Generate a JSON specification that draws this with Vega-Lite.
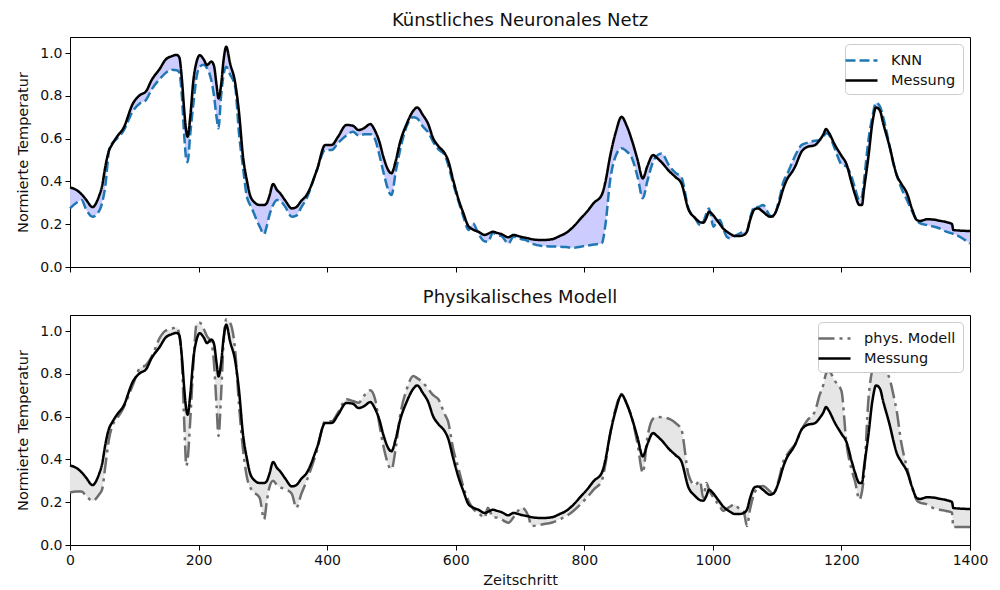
{
  "$schema": "https://vega.github.io/schema/vega-lite/v6.json",
  "padding": {"left": 15, "top": 11, "right": 5, "bottom": 5},
  "spacing": 13,
  "config": {
    "font": "DejaVu Sans",
    "view": {"stroke": "#000000", "strokeWidth": 1},
    "axis": {"grid": false, "domainColor": "#000000", "tickColor": "#000000", "labelColor": "#111111", "titleColor": "#111111", "labelFontSize": 14, "titleFontSize": 14.5, "titleFontWeight": "normal", "tickSize": 5, "labelPadding": 3},
    "title": {"fontSize": 18, "fontWeight": "normal", "color": "#111111", "offset": 7},
    "legend": {"orient": "top-right", "offset": 7, "fillColor": "#ffffff", "strokeColor": "#cccccc", "cornerRadius": 4, "padding": 7, "labelFontSize": 14.5, "labelColor": "#111111", "symbolType": "M-2,0H2", "symbolSize": 256, "symbolStrokeWidth": 2.5, "labelOffset": 20, "rowPadding": 4}
  },
  "data": {"values": [
    {"t":0,"Messung":0.372,"KNN":0.274,"phys":0.245},
    {"t":10,"Messung":0.36,"KNN":0.30,"phys":0.25},
    {"t":18,"Messung":0.34,"KNN":0.313,"phys":0.25},
    {"t":25,"Messung":0.315,"KNN":0.27,"phys":0.23},
    {"t":35,"Messung":0.28,"KNN":0.235,"phys":0.206},
    {"t":45,"Messung":0.33,"KNN":0.26,"phys":0.235},
    {"t":50,"Messung":0.38,"KNN":0.30,"phys":0.26},
    {"t":55,"Messung":0.47,"KNN":0.38,"phys":0.37},
    {"t":61,"Messung":0.547,"KNN":0.55,"phys":0.50},
    {"t":65,"Messung":0.57,"KNN":0.575,"phys":0.55},
    {"t":73,"Messung":0.609,"KNN":0.60,"phys":0.59},
    {"t":83,"Messung":0.648,"KNN":0.635,"phys":0.64},
    {"t":98,"Messung":0.765,"KNN":0.73,"phys":0.75},
    {"t":109,"Messung":0.804,"KNN":0.765,"phys":0.828},
    {"t":118,"Messung":0.82,"KNN":0.78,"phys":0.84},
    {"t":127,"Messung":0.874,"KNN":0.83,"phys":0.88},
    {"t":140,"Messung":0.928,"KNN":0.88,"phys":0.97},
    {"t":148,"Messung":0.967,"KNN":0.905,"phys":1.0},
    {"t":158,"Messung":0.985,"KNN":0.922,"phys":1.01},
    {"t":166,"Messung":0.991,"KNN":0.92,"phys":1.018},
    {"t":170,"Messung":0.98,"KNN":0.91,"phys":0.98},
    {"t":174,"Messung":0.88,"KNN":0.80,"phys":0.86},
    {"t":178,"Messung":0.72,"KNN":0.60,"phys":0.55},
    {"t":181,"Messung":0.63,"KNN":0.50,"phys":0.37},
    {"t":183,"Messung":0.609,"KNN":0.49,"phys":0.40},
    {"t":187,"Messung":0.70,"KNN":0.62,"phys":0.58},
    {"t":192,"Messung":0.874,"KNN":0.765,"phys":0.85},
    {"t":197,"Messung":0.96,"KNN":0.89,"phys":1.035},
    {"t":202,"Messung":0.99,"KNN":0.936,"phys":1.039},
    {"t":208,"Messung":0.97,"KNN":0.945,"phys":1.01},
    {"t":213,"Messung":0.944,"KNN":0.93,"phys":0.977},
    {"t":220,"Messung":0.96,"KNN":0.87,"phys":0.945},
    {"t":224,"Messung":0.94,"KNN":0.80,"phys":0.85},
    {"t":228,"Messung":0.85,"KNN":0.70,"phys":0.65},
    {"t":231,"Messung":0.788,"KNN":0.648,"phys":0.51},
    {"t":235,"Messung":0.85,"KNN":0.80,"phys":0.70},
    {"t":239,"Messung":0.97,"KNN":0.90,"phys":0.95},
    {"t":243,"Messung":1.03,"KNN":0.936,"phys":1.055},
    {"t":249,"Messung":0.952,"KNN":0.90,"phys":1.039},
    {"t":257,"Messung":0.86,"KNN":0.84,"phys":0.907},
    {"t":263,"Messung":0.72,"KNN":0.62,"phys":0.65},
    {"t":269,"Messung":0.52,"KNN":0.47,"phys":0.45},
    {"t":275,"Messung":0.407,"KNN":0.33,"phys":0.32},
    {"t":282,"Messung":0.321,"KNN":0.28,"phys":0.26},
    {"t":295,"Messung":0.29,"KNN":0.19,"phys":0.221},
    {"t":302,"Messung":0.29,"KNN":0.154,"phys":0.12},
    {"t":306,"Messung":0.298,"KNN":0.19,"phys":0.20},
    {"t":310,"Messung":0.33,"KNN":0.24,"phys":0.268},
    {"t":316,"Messung":0.388,"KNN":0.29,"phys":0.30},
    {"t":322,"Messung":0.36,"KNN":0.313,"phys":0.28},
    {"t":327,"Messung":0.344,"KNN":0.31,"phys":0.27},
    {"t":335,"Messung":0.31,"KNN":0.28,"phys":0.26},
    {"t":345,"Messung":0.274,"KNN":0.235,"phys":0.24},
    {"t":352,"Messung":0.28,"KNN":0.24,"phys":0.174},
    {"t":360,"Messung":0.31,"KNN":0.28,"phys":0.24},
    {"t":368,"Messung":0.336,"KNN":0.32,"phys":0.299},
    {"t":384,"Messung":0.453,"KNN":0.453,"phys":0.44},
    {"t":397,"Messung":0.57,"KNN":0.547,"phys":0.578},
    {"t":407,"Messung":0.57,"KNN":0.547,"phys":0.578},
    {"t":417,"Messung":0.609,"KNN":0.58,"phys":0.62},
    {"t":430,"Messung":0.664,"KNN":0.615,"phys":0.681},
    {"t":440,"Messung":0.66,"KNN":0.632,"phys":0.673},
    {"t":449,"Messung":0.64,"KNN":0.615,"phys":0.665},
    {"t":458,"Messung":0.65,"KNN":0.62,"phys":0.70},
    {"t":467,"Messung":0.668,"KNN":0.621,"phys":0.723},
    {"t":474,"Messung":0.64,"KNN":0.60,"phys":0.688},
    {"t":482,"Messung":0.578,"KNN":0.515,"phys":0.55},
    {"t":487,"Messung":0.52,"KNN":0.45,"phys":0.47},
    {"t":500,"Messung":0.438,"KNN":0.336,"phys":0.354},
    {"t":507,"Messung":0.50,"KNN":0.45,"phys":0.46},
    {"t":513,"Messung":0.578,"KNN":0.54,"phys":0.595},
    {"t":524,"Messung":0.671,"KNN":0.66,"phys":0.73},
    {"t":534,"Messung":0.73,"KNN":0.70,"phys":0.79},
    {"t":540,"Messung":0.746,"KNN":0.695,"phys":0.78},
    {"t":549,"Messung":0.71,"KNN":0.656,"phys":0.759},
    {"t":557,"Messung":0.67,"KNN":0.63,"phys":0.73},
    {"t":565,"Messung":0.601,"KNN":0.585,"phys":0.70},
    {"t":573,"Messung":0.565,"KNN":0.55,"phys":0.681},
    {"t":583,"Messung":0.531,"KNN":0.523,"phys":0.61},
    {"t":588,"Messung":0.50,"KNN":0.48,"phys":0.579},
    {"t":596,"Messung":0.407,"KNN":0.39,"phys":0.45},
    {"t":604,"Messung":0.32,"KNN":0.31,"phys":0.361},
    {"t":612,"Messung":0.251,"KNN":0.235,"phys":0.27},
    {"t":620,"Messung":0.19,"KNN":0.173,"phys":0.206},
    {"t":627,"Messung":0.175,"KNN":0.204,"phys":0.17},
    {"t":635,"Messung":0.165,"KNN":0.157,"phys":0.15},
    {"t":645,"Messung":0.15,"KNN":0.12,"phys":0.128},
    {"t":650,"Messung":0.155,"KNN":0.118,"phys":0.174},
    {"t":658,"Messung":0.165,"KNN":0.16,"phys":0.13},
    {"t":664,"Messung":0.16,"KNN":0.15,"phys":0.128},
    {"t":671,"Messung":0.154,"KNN":0.145,"phys":0.12},
    {"t":682,"Messung":0.139,"KNN":0.11,"phys":0.104},
    {"t":690,"Messung":0.15,"KNN":0.142,"phys":0.13},
    {"t":697,"Messung":0.145,"KNN":0.135,"phys":0.16},
    {"t":703,"Messung":0.14,"KNN":0.13,"phys":0.174},
    {"t":713,"Messung":0.134,"KNN":0.12,"phys":0.135},
    {"t":718,"Messung":0.13,"KNN":0.11,"phys":0.089},
    {"t":736,"Messung":0.126,"KNN":0.098,"phys":0.097},
    {"t":750,"Messung":0.13,"KNN":0.096,"phys":0.105},
    {"t":762,"Messung":0.145,"KNN":0.095,"phys":0.12},
    {"t":772,"Messung":0.16,"KNN":0.093,"phys":0.135},
    {"t":783,"Messung":0.188,"KNN":0.09,"phys":0.159},
    {"t":794,"Messung":0.225,"KNN":0.095,"phys":0.19},
    {"t":804,"Messung":0.258,"KNN":0.10,"phys":0.221},
    {"t":815,"Messung":0.30,"KNN":0.105,"phys":0.26},
    {"t":827,"Messung":0.336,"KNN":0.11,"phys":0.299},
    {"t":833,"Messung":0.40,"KNN":0.20,"phys":0.38},
    {"t":840,"Messung":0.515,"KNN":0.40,"phys":0.515},
    {"t":849,"Messung":0.63,"KNN":0.52,"phys":0.64},
    {"t":858,"Messung":0.702,"KNN":0.555,"phys":0.706},
    {"t":866,"Messung":0.66,"KNN":0.54,"phys":0.66},
    {"t":874,"Messung":0.593,"KNN":0.51,"phys":0.595},
    {"t":883,"Messung":0.50,"KNN":0.42,"phys":0.47},
    {"t":891,"Messung":0.414,"KNN":0.321,"phys":0.338},
    {"t":898,"Messung":0.47,"KNN":0.40,"phys":0.50},
    {"t":907,"Messung":0.523,"KNN":0.492,"phys":0.59},
    {"t":913,"Messung":0.51,"KNN":0.52,"phys":0.598},
    {"t":920,"Messung":0.49,"KNN":0.531,"phys":0.597},
    {"t":933,"Messung":0.445,"KNN":0.469,"phys":0.588},
    {"t":942,"Messung":0.42,"KNN":0.44,"phys":0.57},
    {"t":951,"Messung":0.391,"KNN":0.42,"phys":0.54},
    {"t":962,"Messung":0.27,"KNN":0.274,"phys":0.33},
    {"t":972,"Messung":0.23,"KNN":0.23,"phys":0.28},
    {"t":980,"Messung":0.21,"KNN":0.196,"phys":0.299},
    {"t":985,"Messung":0.207,"KNN":0.21,"phys":0.221},
    {"t":990,"Messung":0.23,"KNN":0.25,"phys":0.29},
    {"t":994,"Messung":0.258,"KNN":0.274,"phys":0.26},
    {"t":1001,"Messung":0.24,"KNN":0.188,"phys":0.221},
    {"t":1006,"Messung":0.22,"KNN":0.21,"phys":0.20},
    {"t":1011,"Messung":0.20,"KNN":0.22,"phys":0.18},
    {"t":1016,"Messung":0.18,"KNN":0.18,"phys":0.159},
    {"t":1022,"Messung":0.165,"KNN":0.14,"phys":0.17},
    {"t":1027,"Messung":0.155,"KNN":0.134,"phys":0.18},
    {"t":1034,"Messung":0.145,"KNN":0.145,"phys":0.19},
    {"t":1042,"Messung":0.145,"KNN":0.157,"phys":0.165},
    {"t":1048,"Messung":0.15,"KNN":0.165,"phys":0.155},
    {"t":1053,"Messung":0.165,"KNN":0.17,"phys":0.089},
    {"t":1058,"Messung":0.22,"KNN":0.23,"phys":0.17},
    {"t":1065,"Messung":0.27,"KNN":0.282,"phys":0.245},
    {"t":1070,"Messung":0.274,"KNN":0.28,"phys":0.27},
    {"t":1078,"Messung":0.258,"KNN":0.29,"phys":0.276},
    {"t":1089,"Messung":0.235,"KNN":0.24,"phys":0.25},
    {"t":1094,"Messung":0.24,"KNN":0.235,"phys":0.237},
    {"t":1102,"Messung":0.29,"KNN":0.30,"phys":0.30},
    {"t":1110,"Messung":0.37,"KNN":0.40,"phys":0.393},
    {"t":1115,"Messung":0.407,"KNN":0.43,"phys":0.42},
    {"t":1125,"Messung":0.453,"KNN":0.50,"phys":0.46},
    {"t":1128,"Messung":0.47,"KNN":0.52,"phys":0.47},
    {"t":1138,"Messung":0.539,"KNN":0.57,"phys":0.54},
    {"t":1146,"Messung":0.56,"KNN":0.58,"phys":0.579},
    {"t":1159,"Messung":0.57,"KNN":0.59,"phys":0.626},
    {"t":1166,"Messung":0.593,"KNN":0.593,"phys":0.70},
    {"t":1172,"Messung":0.62,"KNN":0.61,"phys":0.75},
    {"t":1176,"Messung":0.645,"KNN":0.625,"phys":0.80},
    {"t":1180,"Messung":0.63,"KNN":0.62,"phys":0.813},
    {"t":1190,"Messung":0.57,"KNN":0.55,"phys":0.766},
    {"t":1200,"Messung":0.52,"KNN":0.48,"phys":0.72},
    {"t":1208,"Messung":0.48,"KNN":0.469,"phys":0.47},
    {"t":1216,"Messung":0.391,"KNN":0.42,"phys":0.35},
    {"t":1221,"Messung":0.34,"KNN":0.37,"phys":0.299},
    {"t":1228,"Messung":0.29,"KNN":0.313,"phys":0.213},
    {"t":1232,"Messung":0.29,"KNN":0.33,"phys":0.25},
    {"t":1235,"Messung":0.36,"KNN":0.40,"phys":0.32},
    {"t":1242,"Messung":0.515,"KNN":0.593,"phys":0.68},
    {"t":1248,"Messung":0.67,"KNN":0.70,"phys":0.82},
    {"t":1254,"Messung":0.746,"KNN":0.768,"phys":0.87},
    {"t":1260,"Messung":0.73,"KNN":0.75,"phys":0.88},
    {"t":1265,"Messung":0.671,"KNN":0.70,"phys":0.84},
    {"t":1276,"Messung":0.55,"KNN":0.55,"phys":0.766},
    {"t":1281,"Messung":0.485,"KNN":0.48,"phys":0.70},
    {"t":1286,"Messung":0.43,"KNN":0.43,"phys":0.626},
    {"t":1293,"Messung":0.39,"KNN":0.37,"phys":0.48},
    {"t":1302,"Messung":0.344,"KNN":0.313,"phys":0.361},
    {"t":1310,"Messung":0.27,"KNN":0.26,"phys":0.27},
    {"t":1317,"Messung":0.22,"KNN":0.22,"phys":0.21},
    {"t":1322,"Messung":0.215,"KNN":0.205,"phys":0.198},
    {"t":1333,"Messung":0.223,"KNN":0.196,"phys":0.19},
    {"t":1342,"Messung":0.222,"KNN":0.19,"phys":0.174},
    {"t":1353,"Messung":0.216,"KNN":0.18,"phys":0.165},
    {"t":1363,"Messung":0.21,"KNN":0.165,"phys":0.159},
    {"t":1372,"Messung":0.201,"KNN":0.157,"phys":0.151},
    {"t":1374,"Messung":0.173,"KNN":0.155,"phys":0.084},
    {"t":1400,"Messung":0.168,"KNN":0.11,"phys":0.084}
  ]},
  "vconcat": [
    {
      "title": "Künstliches Neuronales Netz",
      "width": 900,
      "height": 230,
      "layer": [
        {
          "mark": {"type": "area", "color": "#ccccff", "opacity": 1, "interpolate": "monotone"},
          "encoding": {
            "x": {"field": "t", "type": "quantitative", "scale": {"domain": [0, 1400], "nice": false}, "axis": {"values": [0,200,400,600,800,1000,1200,1400], "labels": false, "title": null}},
            "y": {"field": "KNN", "type": "quantitative", "scale": {"domain": [0, 1.075], "nice": false}, "axis": {"values": [0,0.2,0.4,0.6,0.8,1.0], "format": ".1f", "title": "Normierte Temperatur", "titlePadding": 9}},
            "y2": {"field": "Messung"}
          }
        },
        {
          "transform": [{"fold": ["KNN", "Messung"], "as": ["key", "value"]}],
          "mark": {"type": "line", "strokeWidth": 2.5, "interpolate": "monotone"},
          "encoding": {
            "x": {"field": "t", "type": "quantitative"},
            "y": {"field": "value", "type": "quantitative", "title": "Normierte Temperatur"},
            "color": {"field": "key", "type": "nominal", "scale": {"domain": ["KNN", "Messung"], "range": ["#1f77b4", "#000000"]}, "legend": {"title": null}},
            "strokeDash": {"field": "key", "type": "nominal", "scale": {"domain": ["KNN", "Messung"], "range": [[10, 4], [1, 0]]}, "legend": {"title": null}}
          }
        }
      ]
    },
    {
      "title": "Physikalisches Modell",
      "width": 900,
      "height": 230,
      "layer": [
        {
          "mark": {"type": "area", "color": "#e6e6e6", "opacity": 1, "interpolate": "monotone"},
          "encoding": {
            "x": {"field": "t", "type": "quantitative", "scale": {"domain": [0, 1400], "nice": false}, "axis": {"values": [0,200,400,600,800,1000,1200,1400], "format": "d", "labelFlush": false, "title": "Zeitschritt", "titlePadding": 6}},
            "y": {"field": "phys", "type": "quantitative", "scale": {"domain": [0, 1.075], "nice": false}, "axis": {"values": [0,0.2,0.4,0.6,0.8,1.0], "format": ".1f", "title": "Normierte Temperatur", "titlePadding": 9}},
            "y2": {"field": "Messung"}
          }
        },
        {
          "transform": [{"fold": ["phys", "Messung"], "as": ["key", "value"]}],
          "mark": {"type": "line", "strokeWidth": 2.5, "interpolate": "monotone"},
          "encoding": {
            "x": {"field": "t", "type": "quantitative"},
            "y": {"field": "value", "type": "quantitative", "title": "Normierte Temperatur"},
            "color": {"field": "key", "type": "nominal", "scale": {"domain": ["phys", "Messung"], "range": ["#6e6e6e", "#000000"]}, "legend": {"title": null, "labelExpr": "datum.label == 'phys' ? 'phys. Modell' : datum.label"}},
            "strokeDash": {"field": "key", "type": "nominal", "scale": {"domain": ["phys", "Messung"], "range": [[16, 5, 3, 5], [1, 0]]}, "legend": {"title": null, "labelExpr": "datum.label == 'phys' ? 'phys. Modell' : datum.label"}}
          }
        }
      ]
    }
  ],
  "resolve": {"scale": {"color": "independent", "strokeDash": "independent"}, "legend": {"color": "independent", "strokeDash": "independent"}}
}
